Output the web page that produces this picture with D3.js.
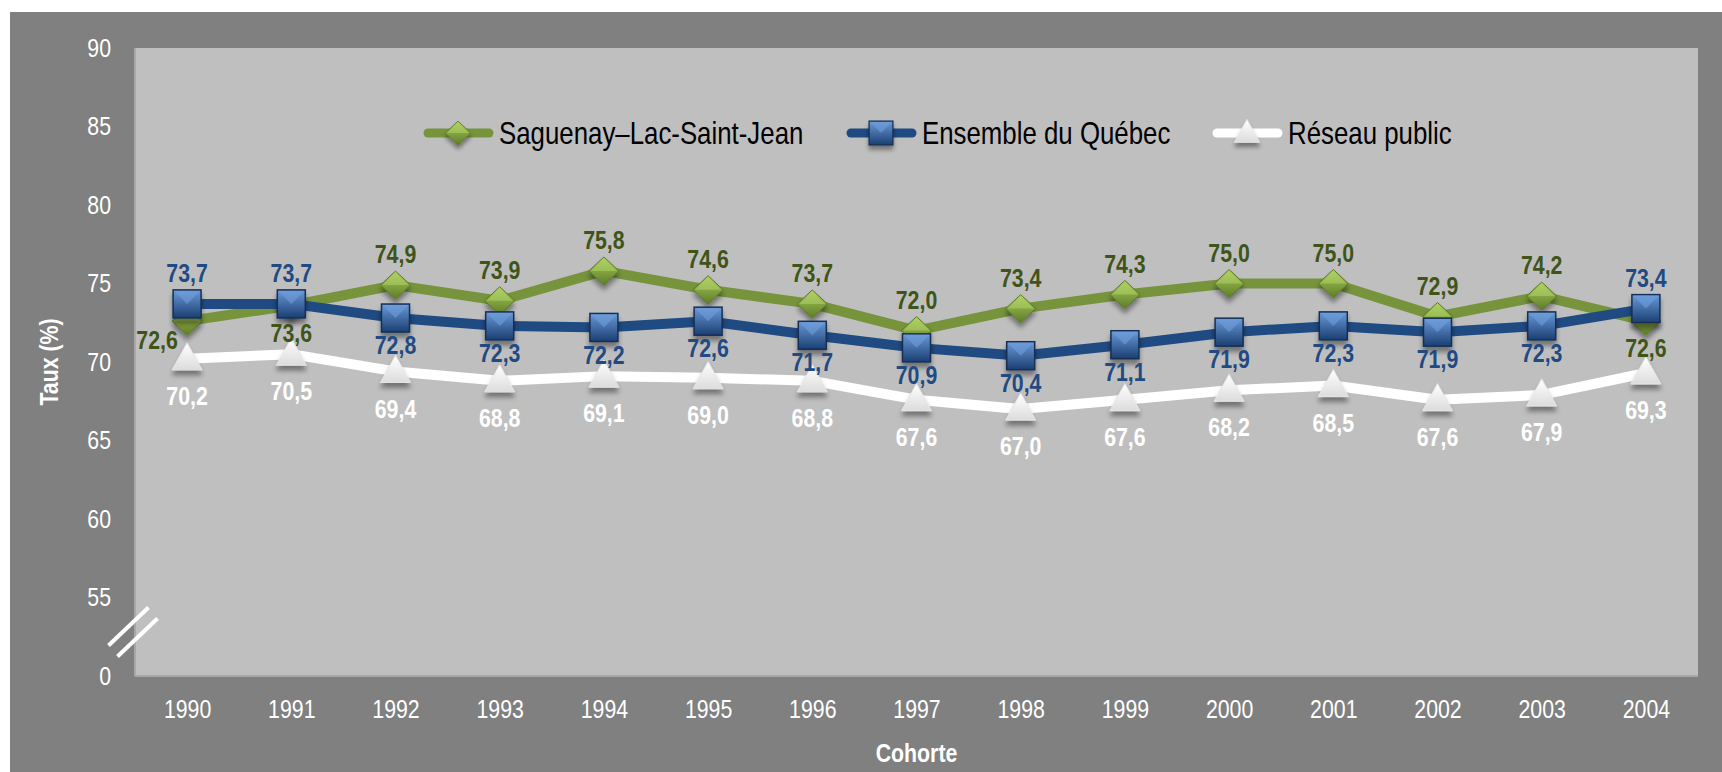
<!DOCTYPE html>
<html>
<head>
<meta charset="utf-8">
<script src="https://cdn.jsdelivr.net/npm/d3@7"></script>
<style>
  body { margin: 0; background: #fff; }
  svg text { font-family: "Liberation Sans Narrow", "Arial Narrow", "Liberation Sans", Arial, sans-serif; }
</style>
</head>
<body>
<div id="chart"></div>
<script>
// cohort years
var years = ["1990", "1991", "1992", "1993", "1994", "1995", "1996", "1997", "1998", "1999", "2000", "2001", "2002", "2003", "2004"];

// rates (%)
var saguenay = [72.6, 73.6, 74.9, 73.9, 75.8, 74.6, 73.7, 72.0, 73.4, 74.3, 75.0, 75.0, 72.9, 74.2, 72.6];
var ensemble = [73.7, 73.7, 72.8, 72.3, 72.2, 72.6, 71.7, 70.9, 70.4, 71.1, 71.9, 72.3, 71.9, 72.3, 73.4];
var reseau = [70.2, 70.5, 69.4, 68.8, 69.1, 69.0, 68.8, 67.6, 67.0, 67.6, 68.2, 68.5, 67.6, 67.9, 69.3];

// y ticks (bottom one is shown as 0, axis is broken)
var yTicks = [50, 55, 60, 65, 70, 75, 80, 85, 90];

var seriesNames = ["Saguenay–Lac-Saint-Jean", "Ensemble du Québec", "Réseau public"];

var width = 1722, height = 772;
var plot = { left: 135, right: 1698, top: 48, bottom: 676 };
var K = 0.82; // narrow font squeeze

var svg = d3.select("#chart").append("svg")
  .attr("width", width)
  .attr("height", height);

var defs = svg.append("defs");

function grad(id, c1, c2) {
  var g = defs.append("linearGradient").attr("id", id)
    .attr("x1", 0).attr("y1", 0).attr("x2", 0).attr("y2", 1);
  g.append("stop").attr("offset", "0%").attr("stop-color", c1);
  g.append("stop").attr("offset", "100%").attr("stop-color", c2);
}
grad("gGreen", "#a9cc5e", "#5f7d28");
grad("gBlue", "#6a9ad8", "#1b3f72");
grad("gWhite", "#ffffff", "#dcdcdc");

var f = defs.append("filter").attr("id", "shadow")
  .attr("x", "-50%").attr("y", "-50%").attr("width", "200%").attr("height", "220%");
f.append("feDropShadow").attr("dx", 0).attr("dy", 5).attr("stdDeviation", 2.5)
  .attr("flood-color", "#000").attr("flood-opacity", 0.4);

// squeeze text horizontally, the font in the source is a narrow one
function squeeze(sel, extra) {
  sel.each(function () {
    var t = d3.select(this);
    var tx = +t.attr("x") || 0, ty = +t.attr("y") || 0;
    t.attr("x", 0).attr("y", 0)
      .attr("transform", "translate(" + tx + "," + ty + ")" + (extra || "") + " scale(" + K + ",1)");
  });
}

// background
svg.append("rect").attr("x", 10).attr("y", 12)
  .attr("width", width - 10).attr("height", height - 12)
  .attr("fill", "#808080");

svg.append("rect")
  .attr("x", plot.left).attr("y", plot.top)
  .attr("width", plot.right - plot.left).attr("height", plot.bottom - plot.top)
  .attr("fill", "#bfbfbf");

var x = d3.scalePoint().domain(years).range([plot.left, plot.right]).padding(0.5);
var y = d3.scaleLinear().domain([50, 90]).range([plot.bottom, plot.top]);

// axes
var yAxis = svg.append("g")
  .attr("transform", "translate(" + plot.left + ",0)")
  .call(d3.axisLeft(y).tickValues(yTicks).tickSize(0).tickPadding(24)
    .tickFormat(function (d) { return d === 50 ? "0" : d; }));
yAxis.select(".domain").remove();
yAxis.selectAll("text").attr("fill", "#fff").style("font-size", "26px");
squeeze(yAxis.selectAll("text"));

var xAxis = svg.append("g")
  .attr("transform", "translate(0," + plot.bottom + ")")
  .call(d3.axisBottom(x).tickSize(0).tickPadding(24));
xAxis.select(".domain").remove();
xAxis.selectAll("text").attr("fill", "#fff").style("font-size", "26px");
squeeze(xAxis.selectAll("text"));

svg.append("line")
  .attr("x1", plot.left).attr("x2", plot.left)
  .attr("y1", plot.top).attr("y2", plot.bottom)
  .attr("stroke", "#a8a8a8").attr("stroke-width", 2);
svg.append("line")
  .attr("x1", plot.left).attr("x2", plot.right)
  .attr("y1", plot.bottom).attr("y2", plot.bottom)
  .attr("stroke", "#a8a8a8").attr("stroke-width", 2);

// axis break marks
var by = y(52.8);
[-5, 5].forEach(function (o) {
  svg.append("line")
    .attr("x1", plot.left - 22 + o * 0.9).attr("y1", by + 19 + o * 1.1)
    .attr("x2", plot.left + 18 + o * 0.9).attr("y2", by - 19 + o * 1.1)
    .attr("stroke", "#fff").attr("stroke-width", 4);
});

// axis titles
svg.append("text")
  .attr("x", 58).attr("y", 362)
  .attr("text-anchor", "middle")
  .attr("fill", "#fff")
  .style("font-size", "26px").style("font-weight", "bold")
  .text("Taux (%)")
  .call(squeeze, " rotate(-90)");

svg.append("text")
  .attr("x", (plot.left + plot.right) / 2).attr("y", 762)
  .attr("text-anchor", "middle")
  .attr("fill", "#fff")
  .style("font-size", "26px").style("font-weight", "bold")
  .text("Cohorte")
  .call(squeeze);

var line = d3.line()
  .x(function (d, i) { return x(years[i]); })
  .y(function (d) { return y(d); });

function marker(g, kind) {
  if (kind === "diamond") {
    g.append("path").attr("d", "M0,-14L15,0L0,14L-15,0Z")
      .attr("fill", "url(#gGreen)").attr("stroke", "#5a7a24").attr("stroke-width", 1);
    g.append("path").attr("d", "M0,-13L13,0L-13,0Z").attr("fill", "#b5d56a").attr("opacity", 0.5);
  } else if (kind === "square") {
    g.append("rect").attr("x", -14).attr("y", -14).attr("width", 28).attr("height", 28)
      .attr("fill", "url(#gBlue)").attr("stroke", "#142f55").attr("stroke-width", 1.5);
    g.append("path").attr("d", "M-13,-13L13,-13L0,0Z").attr("fill", "#6f9fdc").attr("opacity", 0.6);
  } else {
    g.append("path").attr("d", "M0,-16L15,11L-15,11Z")
      .attr("fill", "url(#gWhite)").attr("stroke", "#e6e6e6").attr("stroke-width", 1);
  }
}

var series = [
  { name: seriesNames[2], values: reseau, color: "#ffffff", label: "#ffffff", kind: "triangle",
    pos: ["b", "b", "b", "b", "b", "b", "b", "b", "b", "b", "b", "b", "b", "b", "b"] },
  { name: seriesNames[0], values: saguenay, color: "#77933c", label: "#3f5419", kind: "diamond",
    pos: ["l", "b", "a", "a", "a", "a", "a", "a", "a", "a", "a", "a", "a", "a", "b"] },
  { name: seriesNames[1], values: ensemble, color: "#1f4a82", label: "#1f4a82", kind: "square",
    pos: ["a", "a", "b", "b", "b", "b", "b", "b", "b", "b", "b", "b", "b", "b", "a"] }
];

// lines and markers
series.forEach(function (s) {
  svg.append("path")
    .datum(s.values)
    .attr("fill", "none")
    .attr("stroke", s.color)
    .attr("stroke-width", 10)
    .attr("stroke-linejoin", "round")
    .attr("d", line);

  svg.selectAll(".m-" + s.kind)
    .data(s.values)
    .enter().append("g")
    .attr("class", "m-" + s.kind)
    .attr("filter", "url(#shadow)")
    .attr("transform", function (d, i) { return "translate(" + x(years[i]) + "," + y(d) + ")"; })
    .each(function () { marker(d3.select(this), s.kind); });
});

// data labels
var fmt = function (v) { return v.toFixed(1).replace(".", ","); };
series.forEach(function (s) {
  svg.selectAll(".lab-" + s.kind)
    .data(s.values)
    .enter().append("text")
    .attr("class", "lab-" + s.kind)
    .attr("text-anchor", "middle")
    .attr("fill", s.label)
    .style("font-size", "26px").style("font-weight", "bold")
    .attr("x", function (d, i) { return x(years[i]) + (s.pos[i] === "l" ? -30 : 0); })
    .attr("y", function (d, i) {
      var p = s.pos[i];
      var off = p === "a" ? -31 : (p === "l" ? 19 : (s.kind === "triangle" ? 37 : 27));
      return y(d) + off;
    })
    .attr("dy", "0.35em")
    .text(fmt)
    .call(squeeze);
});

// legend
var legendX = [428, 851, 1217];
var legendOrder = [series[1], series[2], series[0]];
legendOrder.forEach(function (s, i) {
  var g = svg.append("g").attr("transform", "translate(" + legendX[i] + ",133)");
  g.append("line").attr("x1", 0).attr("x2", 61).attr("y1", 0).attr("y2", 0)
    .attr("stroke", s.color).attr("stroke-width", 9).attr("stroke-linecap", "round");
  var m = g.append("g").attr("transform", "translate(30,0) scale(0.85)").attr("filter", "url(#shadow)");
  marker(m, s.kind);
  g.append("text").attr("x", 71).attr("dy", "0.35em")
    .attr("fill", "#000")
    .style("font-size", "31.5px")
    .text(s.name)
    .call(squeeze);
});
</script>
</body>
</html>
